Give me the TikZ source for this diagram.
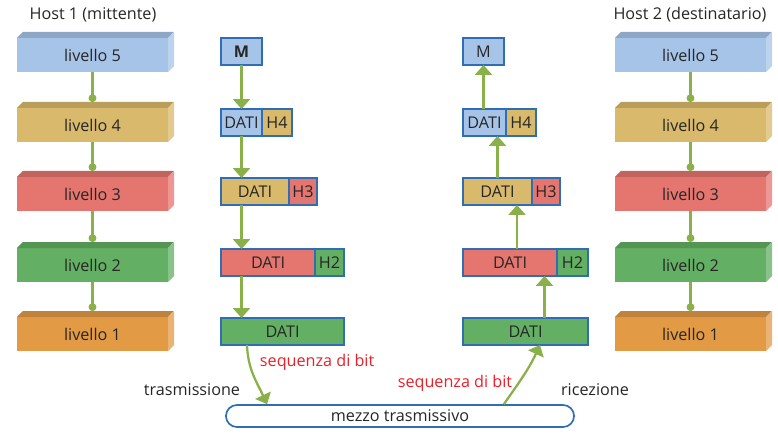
\documentclass[tikz,border=0pt]{standalone}
\usepackage{fontspec}
\setmainfont{Open Sans}
\usetikzlibrary{positioning,arrows.meta}
\definecolor{cblu}{HTML}{A6C4E8}
\definecolor{ctan}{HTML}{D9B96B}
\definecolor{cred}{HTML}{E5756F}
\definecolor{cgrn}{HTML}{63AF63}
\definecolor{cora}{HTML}{E39A45}
\definecolor{cbrd}{HTML}{2F6DB5}
\definecolor{cfrc}{HTML}{8AB04A}
\definecolor{ctxt}{HTML}{262626}
\definecolor{cbit}{HTML}{E8202A}
\begin{document}
\begin{tikzpicture}[x=0.025cm,y=-0.025cm,font=\fontsize{11.5}{13}\selectfont]
    \tikzset{% styles for layers, packets and connectors
    liv/.style={minimum width=3.775cm,minimum height=0.85cm,inner sep=0,outer sep=0,text=ctxt},
    pkt/.style={draw=cbrd,line width=1pt,minimum height=0.675cm,inner sep=0,outer sep=0,text=ctxt,anchor=north west},
    lnk/.style={cfrc,line width=1.5pt,-{Circle[length=5.5pt]}},
    frc/.style={cfrc,line width=1.6pt,-{Triangle[width=12pt,length=7pt]}},
    }
    \useasboundingbox (0,0) rectangle (778,442);

    % Host labels
    \node[text=ctxt] (h1) at (93,15) {Host 1 (mittente)};
    \node[text=ctxt] (h2) at (690,15) {Host 2 (destinatario)};

    % Layers
    \foreach \n/\y/\c in {5/55/cblu,4/125/ctan,3/194/cred,2/265/cgrn,1/334/cora}{
        \node[liv,fill=\c] (hs\n) at (92.5,\y) {livello \n};
        \fill[\c!85!black] (hs\n.north west) -- ++(6,-6) -- ++(151,0) -- (hs\n.north east) -- cycle;
        \fill[\c!75!white] (hs\n.north east) -- ++(6,-6) -- ++(0,34) -- (hs\n.south east) -- cycle;
        \node[liv,fill=\c] (hr\n) at (690.5,\y) {livello \n};
        \fill[\c!85!black] (hr\n.north west) -- ++(6,-6) -- ++(151,0) -- (hr\n.north east) -- cycle;
        \fill[\c!75!white] (hr\n.north east) -- ++(6,-6) -- ++(0,34) -- (hr\n.south east) -- cycle;
    }
    \foreach \a/\b in {5/4,4/3,3/2,2/1}{
        \draw[lnk] (hs\a.south) -- ([yshift=0.15cm]hs\b.north);
        \draw[lnk] (hr\a.south) -- ([yshift=0.15cm]hr\b.north);
    }

    % Packets, sender
    \node[pkt,fill=cblu,minimum width=1.025cm] (sM) at (221,38) {\textbf{M}};
    \node[pkt,fill=cblu,minimum width=1.025cm] (sD4) at (221,109) {DATI};
    \node[pkt,fill=ctan,minimum width=0.75cm,right=0pt of sD4] (sH4) {H4};
    \node[pkt,fill=ctan,minimum width=1.7cm] (sD3) at (221,178) {DATI};
    \node[pkt,fill=cred,minimum width=0.7cm,right=0pt of sD3] (sH3) {H3};
    \node[pkt,fill=cred,minimum width=2.35cm] (sD2) at (221,249) {DATI};
    \node[pkt,fill=cgrn,minimum width=0.725cm,right=0pt of sD2] (sH2) {H2};
    \node[pkt,fill=cgrn,minimum width=3.075cm] (sD1) at (221,318) {DATI};

    % Packets, receiver
    \node[pkt,fill=cblu,minimum width=1.025cm] (rM) at (463,38) {M};
    \node[pkt,fill=cblu,minimum width=1.075cm] (rD4) at (463,109) {DATI};
    \node[pkt,fill=ctan,minimum width=0.75cm,right=0pt of rD4] (rH4) {H4};
    \node[pkt,fill=ctan,minimum width=1.725cm] (rD3) at (463,178) {DATI};
    \node[pkt,fill=cred,minimum width=0.7cm,right=0pt of rD3] (rH3) {H3};
    \node[pkt,fill=cred,minimum width=2.35cm] (rD2) at (463,249) {DATI};
    \node[pkt,fill=cgrn,minimum width=0.775cm,right=0pt of rD2] (rH2) {H2};
    \node[pkt,fill=cgrn,minimum width=3.125cm] (rD1) at (463,318) {DATI};

    % Medium
    \node[draw=cbrd,line width=1.2pt,rounded corners=0.275cm,minimum width=8.7cm,
          minimum height=0.55cm,inner sep=0,text=ctxt] (mz) at (400,416) {mezzo trasmissivo};

    % Arrows down
    \draw[frc] (sM.south) -- (sD4.north);
    \draw[frc] (sM.south |- sD4.south) -- (sM.south |- sD3.north);
    \draw[frc] (sM.south |- sD3.south) -- (sM.south |- sD2.north);
    \draw[frc] (sM.south |- sD2.south) -- (sM.south |- sD1.north);
    % Arrows up
    \draw[frc] (rM.south |- rD4.north) -- (rM.south);
    \draw[frc] (rD3.north) -- (rD3.north |- rD4.south);
    \draw[frc] ([xshift=0.175cm]rD2.north) -- ([xshift=0.175cm]rD2.north |- rD3.south);
    \draw[frc] ([xshift=0.475cm]rD1.north) -- ([xshift=0.475cm]rD1.north |- rD2.south);

    % Bit streams
    \draw[frc] ([xshift=0.65cm]sD1.south west) to[out=-88,in=115] ([xshift=1.05cm]mz.north west);
    \draw[frc] ([xshift=-1.775cm]mz.north east) to[out=55,in=-115] ([xshift=1.925cm]rD1.south west);
    \node[text=cbit,anchor=west] (b1) at (255,362) {sequenza di bit};
    \node[text=cbit] (b2) at (455,383) {sequenza di bit};
    \node[text=ctxt] (tx) at (192,390) {trasmissione};
    \node[text=ctxt] (rx) at (595,390) {ricezione};
\end{tikzpicture}
\end{document}
